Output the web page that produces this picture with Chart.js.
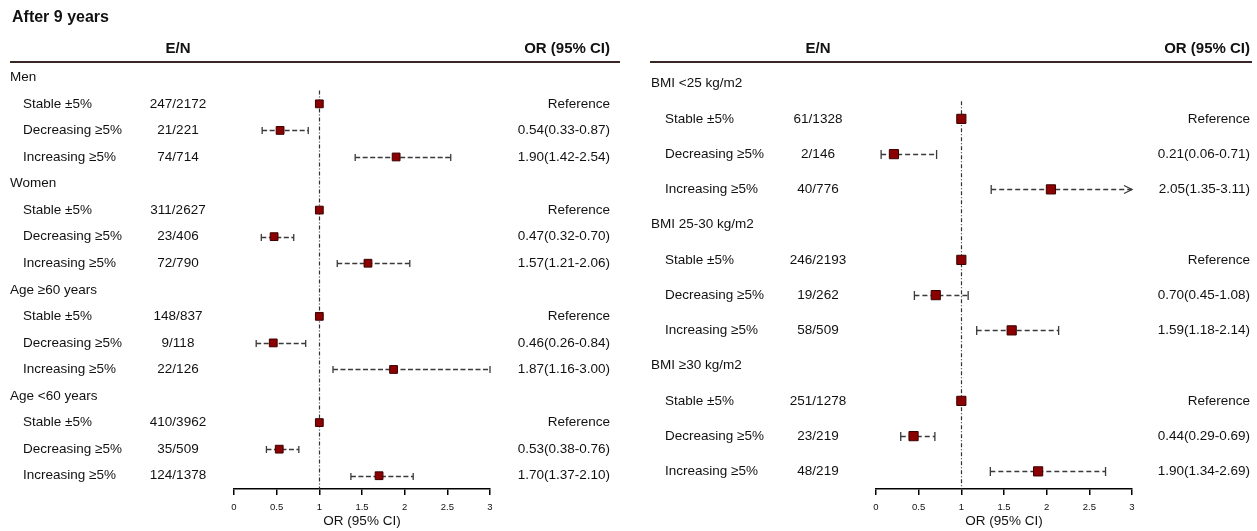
<!DOCTYPE html>
<html>
<head>
<meta charset="utf-8">
<script src="https://cdn.jsdelivr.net/npm/chart.js@4.4.0/dist/chart.umd.min.js"></script>
<style>
  html, body { margin: 0; padding: 0; background: #fff; }
  #wrap { position: relative; width: 1257px; height: 531px; }
  canvas { position: absolute; top: 0; }
</style>
</head>
<body>
<div id="wrap">
  <canvas id="left" width="630" height="531" style="left:0"></canvas>
  <canvas id="right" width="627" height="531" style="left:630px"></canvas>
</div>
<script>
// ---------------------------------------------------
const FONT = '"Liberation Sans", Arial, sans-serif';

const subgroups = [ 'Stable ±5%', 'Decreasing ≥5%', 'Increasing ≥5%' ];
const xTickLabels = [ '0', '0.5', '1', '1.5', '2', '2.5', '3' ];

// left panel
const leftGroups = [ 'Men', 'Women', 'Age ≥60 years', 'Age <60 years' ];
const leftEvents = [ '247/2172', '21/221', '74/714', '311/2627', '23/406', '72/790',
                     '148/837', '9/118', '22/126', '410/3962', '35/509', '124/1378' ];
const leftOR   = [ 1, 0.54, 1.90, 1, 0.47, 1.57, 1, 0.46, 1.87, 1, 0.53, 1.70 ];
const leftLow  = [ null, 0.33, 1.42, null, 0.32, 1.21, null, 0.26, 1.16, null, 0.38, 1.37 ];
const leftHigh = [ null, 0.87, 2.54, null, 0.70, 2.06, null, 0.84, 3.00, null, 0.76, 2.10 ];

// right panel
const rightGroups = [ 'BMI <25 kg/m2', 'BMI 25-30 kg/m2', 'BMI ≥30 kg/m2' ];
const rightEvents = [ '61/1328', '2/146', '40/776', '246/2193', '19/262', '58/509',
                      '251/1278', '23/219', '48/219' ];
const rightOR   = [ 1, 0.21, 2.05, 1, 0.70, 1.59, 1, 0.44, 1.90 ];
const rightLow  = [ null, 0.06, 1.35, null, 0.45, 1.18, null, 0.29, 1.34 ];
const rightHigh = [ null, 0.71, 3.11, null, 1.08, 2.14, null, 0.69, 2.69 ];
// ---------------------------------------------------

function buildRows( groups, events, or, low, high ) {
    const rows = [];
    groups.forEach( ( g, gi ) => {
        rows.push( { type: 'group', label: g } );
        subgroups.forEach( ( s, si ) => {
            const k = gi * 3 + si;
            rows.push( { type: 'item', label: s, en: events[ k ], or: or[ k ], lo: low[ k ], hi: high[ k ] } );
        });
    });
    return rows;
}

function orText( r ) {
    if ( r.lo == null ) return 'Reference';
    return r.or.toFixed( 2 ) + '(' + r.lo.toFixed( 2 ) + '-' + r.hi.toFixed( 2 ) + ')';
}

function forestPlugin( rows, cfg ) {
    return {
        id: 'forest',
        beforeDatasetsDraw( chart ) {
            const ctx = chart.ctx, xs = chart.scales.x, ys = chart.scales.y, area = chart.chartArea;
            ctx.save();
            // reference line at OR = 1
            const x1 = Math.round( xs.getPixelForValue( 1 ) ) + 0.5;
            ctx.strokeStyle = '#333';
            ctx.lineWidth = 1.2;
            ctx.setLineDash( [ 4, 2, 1, 2 ] );
            ctx.beginPath();
            ctx.moveTo( x1, ys.getPixelForValue( 0.5 ) );
            ctx.lineTo( x1, area.bottom );
            ctx.stroke();
            // confidence intervals
            ctx.lineWidth = 1.3;
            rows.forEach( ( r, i ) => {
                if ( r.type !== 'item' || r.lo == null ) return;
                const y = Math.round( ys.getPixelForValue( i ) ) + 0.5;
                const xa = xs.getPixelForValue( Math.max( r.lo, xs.min ) );
                const xb = xs.getPixelForValue( Math.min( r.hi, xs.max ) );
                ctx.strokeStyle = '#3a3a3a';
                ctx.setLineDash( cfg.dash );
                ctx.beginPath();
                ctx.moveTo( xa, y );
                ctx.lineTo( xb, y );
                ctx.stroke();
                ctx.setLineDash( [] );
                ctx.beginPath();
                ctx.moveTo( xa, y - cfg.cap );
                ctx.lineTo( xa, y + cfg.cap );
                if ( r.hi > xs.max ) {
                    ctx.moveTo( xb - 8, y - 4 );
                    ctx.lineTo( xb, y );
                    ctx.lineTo( xb - 8, y + 4 );
                } else {
                    ctx.moveTo( xb, y - cfg.cap );
                    ctx.lineTo( xb, y + cfg.cap );
                }
                ctx.stroke();
            });
            ctx.restore();
        },
        afterDraw( chart ) {
            const ctx = chart.ctx, ys = chart.scales.y;
            ctx.save();
            ctx.fillStyle = '#111';
            ctx.textBaseline = 'middle';
            if ( cfg.title ) {
                ctx.font = 'bold 16px ' + FONT;
                ctx.textAlign = 'left';
                ctx.fillText( cfg.title, 12, 18 );
            }
            // header
            ctx.font = 'bold 15px ' + FONT;
            ctx.textAlign = 'center';
            ctx.fillText( 'E/N', cfg.enX, 49 );
            ctx.textAlign = 'right';
            ctx.fillText( 'OR (95% CI)', cfg.orX, 49 );
            ctx.strokeStyle = '#3b2626';
            ctx.lineWidth = 2;
            ctx.beginPath();
            ctx.moveTo( cfg.ruleX0, 62 );
            ctx.lineTo( cfg.ruleX1, 62 );
            ctx.stroke();
            // rows
            ctx.font = '13.5px ' + FONT;
            rows.forEach( ( r, i ) => {
                const y = ys.getPixelForValue( i );
                ctx.textAlign = 'left';
                if ( r.type === 'group' ) {
                    ctx.fillText( r.label, cfg.groupX, y );
                    return;
                }
                ctx.fillText( r.label, cfg.itemX, y );
                ctx.textAlign = 'center';
                ctx.fillText( r.en, cfg.enX, y );
                ctx.textAlign = 'right';
                ctx.fillText( orText( r ), cfg.orX, y );
            });
            ctx.restore();
        }
    };
}

function makeForest( canvasId, rows, cfg ) {
    const points = [];
    rows.forEach( ( r, i ) => {
        if ( r.type === 'item' ) points.push( { x: r.or, y: i } );
    });
    return new Chart( document.getElementById( canvasId ), {
        type: 'scatter',
        data: {
            datasets: [ {
                data: points,
                pointStyle: 'rect',
                pointRadius: cfg.r,
                backgroundColor: '#8b0000',
                borderColor: '#3a0000',
                borderWidth: 1
            } ]
        },
        options: {
            responsive: false,
            animation: false,
            devicePixelRatio: 1,
            events: [],
            layout: { padding: { left: cfg.padL, right: cfg.padR, top: cfg.padT, bottom: 0 } },
            plugins: { legend: { display: false }, tooltip: { enabled: false } },
            scales: {
                x: {
                    type: 'linear',
                    min: 0,
                    max: 3,
                    afterFit( s ) { s.height = 42; },
                    ticks: {
                        stepSize: 0.5,
                        padding: 7,
                        color: '#111',
                        font: { family: FONT, size: 9.5 },
                        callback: ( v, i ) => xTickLabels[ i ]
                    },
                    grid: { drawOnChartArea: false, drawTicks: true, tickLength: 6, color: '#000', lineWidth: 1.5 },
                    border: { display: true, color: '#000', width: 1.5 },
                    title: {
                        display: true,
                        text: 'OR (95% CI)',
                        color: '#111',
                        font: { family: FONT, size: 13.5 },
                        padding: { top: 0, bottom: 2 }
                    }
                },
                y: { type: 'linear', display: false, reverse: true, min: -0.5, max: rows.length - 0.5 }
            }
        },
        plugins: [ forestPlugin( rows, cfg ) ]
    });
}

window.addEventListener( 'load', function () {
    makeForest( 'left', buildRows( leftGroups, leftEvents, leftOR, leftLow, leftHigh ), {
        title: 'After 9 years',
        padL: 234, padR: 140, padT: 64,
        groupX: 10, itemX: 23, enX: 178, orX: 610, ruleX0: 10, ruleX1: 620,
        r: 5.5, cap: 3.5, dash: [ 5, 2.5 ]
    });
    makeForest( 'right', buildRows( rightGroups, rightEvents, rightOR, rightLow, rightHigh ), {
        title: null,
        padL: 246, padR: 125, padT: 66,
        groupX: 21, itemX: 35, enX: 188, orX: 620, ruleX0: 20, ruleX1: 622,
        r: 6.5, cap: 4.5, dash: [ 5, 3 ]
    });
}, false );
</script>
</body>
</html>
